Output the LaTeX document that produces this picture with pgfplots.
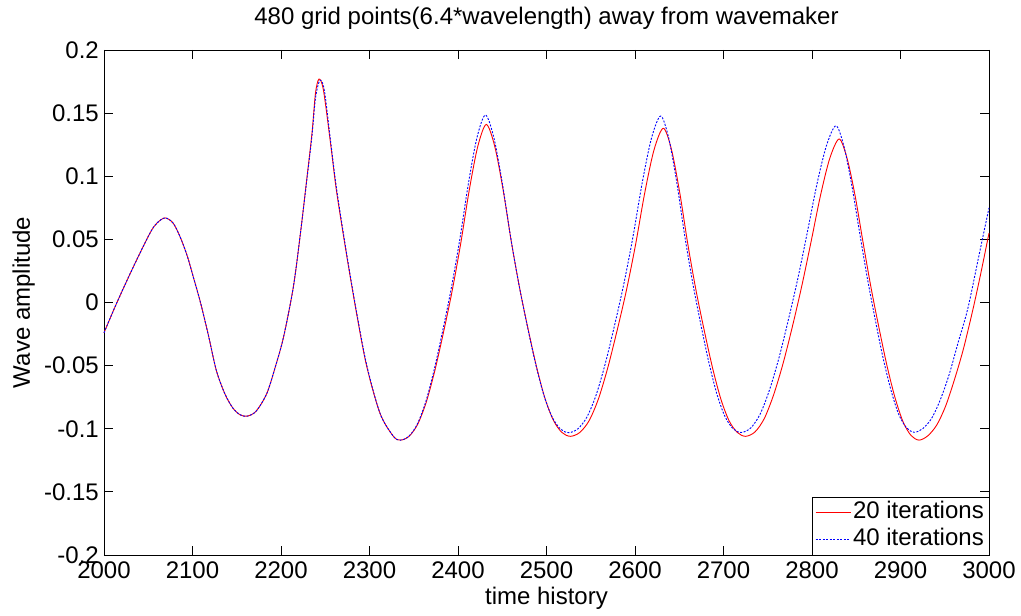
\documentclass[border=0pt]{standalone}
\usepackage{pgfplots}
\pgfplotsset{compat=1.18}
\usepackage{pgfplotstable}
\usepackage{fontspec}
\setmainfont{Liberation Sans}
\newcommand\ff{\fontsize{24}{28}\selectfont}

\pgfplotstableread{
t y
2000 -0.024
2014 -0.001
2033 0.028
2052 0.055
2060 0.063
2069 0.067
2078 0.063
2086 0.052
2094 0.037
2101 0.020
2109 0.000
2118 -0.026
2127 -0.054
2137 -0.073
2146 -0.084
2154 -0.089
2162 -0.090
2172 -0.086
2184 -0.072
2194 -0.050
2203 -0.027
2214 0.0125
2222 0.055
2229 0.097
2235 0.134
2239 0.166
2243 0.177
2248 0.168
2256 0.126
2263 0.087
2275 0.034
2286 -0.011
2297 -0.051
2312 -0.088
2327 -0.106
2335 -0.109
2344.7 -0.106
2354.4 -0.0965
2364.1 -0.079
2373.8 -0.054
2383.5 -0.024
2393.2 0.0085
2402.9 0.046
2412.6 0.0885
2422.3 0.1235
2432 0.141
2441.5 0.1237
2451 0.0891
2460.5 0.0471
2470 0.0101
2479.5 -0.022
2489 -0.0517
2498.5 -0.0764
2508 -0.0936
2517.5 -0.103
2527 -0.106
2537.5 -0.103
2548 -0.0938
2558.5 -0.0767
2569 -0.0523
2579.5 -0.023
2590 0.0087
2600.5 0.0453
2611 0.0868
2621.5 0.1209
2632 0.138
2641.3 0.1209
2650.6 0.0868
2659.9 0.0453
2669.2 0.0087
2678.5 -0.023
2687.8 -0.0523
2697.1 -0.0767
2706.4 -0.0938
2715.7 -0.103
2725 -0.106
2735.6 -0.1025
2746.1 -0.0919
2756.7 -0.073
2767.3 -0.0483
2777.9 -0.0189
2788.4 0.0129
2799 0.0483
2809.6 0.0848
2820.1 0.1142
2830.7 0.1295
2839.7 0.114
2848.8 0.0842
2857.8 0.0472
2866.8 0.0114
2875.9 -0.0208
2884.9 -0.0506
2893.9 -0.0756
2903 -0.0947
2912 -0.1054
2921 -0.109
2931 -0.1055
2941 -0.097
2951 -0.082
2961 -0.061
2971 -0.037
2982 -0.005
2991 0.024
3000 0.055
}\redtable

\pgfplotstableread{
t y
2000 -0.024
2014 -0.001
2033 0.028
2052 0.055
2060 0.063
2069 0.067
2078 0.063
2086 0.052
2094 0.037
2101 0.020
2109 0.000
2118 -0.026
2127 -0.054
2137 -0.073
2146 -0.084
2154 -0.089
2162 -0.090
2172 -0.086
2184 -0.072
2194 -0.050
2203 -0.027
2214 0.0125
2222 0.055
2229 0.096
2235 0.132
2239 0.162
2244 0.176
2249 0.168
2256 0.128
2263 0.089
2275 0.035
2286 -0.010
2297 -0.050
2312 -0.088
2327 -0.106
2335 -0.109
2344.6 -0.1059
2354.2 -0.0961
2363.8 -0.0781
2373.4 -0.0523
2383 -0.0214
2392.6 0.012
2402.2 0.0507
2411.8 0.0944
2421.4 0.1305
2431 0.1485
2440.4 0.1309
2449.8 0.0957
2459.2 0.0529
2468.6 0.0152
2478 -0.0176
2487.4 -0.0477
2496.8 -0.0729
2506.2 -0.0905
2515.6 -0.1001
2525 -0.1031
2535.4 -0.1001
2545.8 -0.0906
2556.2 -0.073
2566.6 -0.0479
2577 -0.0178
2587.4 0.0148
2597.8 0.0524
2608.2 0.095
2618.6 0.1301
2629 0.1477
2638.1 0.1302
2647.2 0.0951
2656.3 0.0524
2665.4 0.0148
2674.5 -0.0178
2683.6 -0.0479
2692.7 -0.0729
2701.8 -0.0905
2710.9 -0.100
2720 -0.103
2730.7 -0.0994
2741.4 -0.0884
2752.1 -0.069
2762.8 -0.0435
2773.5 -0.0131
2784.2 0.0197
2794.9 0.0562
2805.6 0.0938
2816.3 0.1242
2827 0.140
2835.9 0.1242
2844.7 0.0939
2853.6 0.0562
2862.4 0.0198
2871.3 -0.013
2880.1 -0.0433
2889 -0.0688
2897.8 -0.0882
2906.7 -0.0992
2915.5 -0.1028
2925 -0.100
2935 -0.092
2945 -0.077
2955 -0.057
2965 -0.032
2976 -0.005
2988 0.035
3000 0.075
}\bluetable

\begin{document}
\begin{tikzpicture}
\begin{axis}[
  scale only axis,
  width=885pt, height=505pt,
  xmin=2000, xmax=3000, ymin=-0.2, ymax=0.2,
  axis line style={black, line width=0.9pt},
  xtick={2000,2100,...,3000},
  xticklabels={2000,2100,2200,2300,2400,2500,2600,2700,2800,2900,3000},
  ytick={-0.2,-0.15,-0.1,-0.05,0,0.05,0.1,0.15,0.2},
  yticklabels={-0.2,-0.15,-0.1,-0.05,0,0.05,0.1,0.15,0.2},
  tick align=inside,
  major tick length=9pt,
  tick style={black, line width=0.8pt},
  xticklabel style={font=\ff, anchor=base, yshift=-24pt},
  yticklabel style={font=\ff, inner xsep=0pt, xshift=-5pt},
  title={480 grid points(6.4*wavelength) away from wavemaker},
  title style={font=\ff, at={(axis description cs:0.5,1)}, anchor=base, yshift=19pt},
  xlabel={time history},
  every axis x label/.style={font=\ff, at={(axis description cs:0.5,0)}, anchor=base, yshift=-50pt},
  ylabel={Wave amplitude},
  every axis y label/.style={font=\ff, at={(axis description cs:0,0.5)}, xshift=-74pt, rotate=90, anchor=base},
  legend cell align=left,
  legend style={at={(axis description cs:1,0)}, anchor=south east,
    draw=black, font=\ff, inner xsep=3pt, inner ysep=3pt, row sep=2pt,
    nodes={inner sep=2pt, text height=17pt, text depth=4pt}},
  clip=false,
]
\addplot[color=red, line width=0.9pt, smooth,
  legend image code/.code={\draw[red, line width=1pt] (0pt,0pt) -- (35pt,0pt);}] table[x=t,y=y] {\redtable};
\addlegendentry{20 iterations}
\addplot[color=blue, line width=0.9pt, smooth, dash pattern=on 2pt off 1.5pt,
  legend image code/.code={\draw[blue, line width=1pt, dash pattern=on 2pt off 1.5pt] (0pt,0pt) -- (35pt,0pt);}] table[x=t,y=y] {\bluetable};
\addlegendentry{40 iterations}
\path (rel axis cs:0,0) ++(-104pt,-61pt) rectangle ++(1021pt,616pt);
\end{axis}
\end{tikzpicture}
\end{document}
